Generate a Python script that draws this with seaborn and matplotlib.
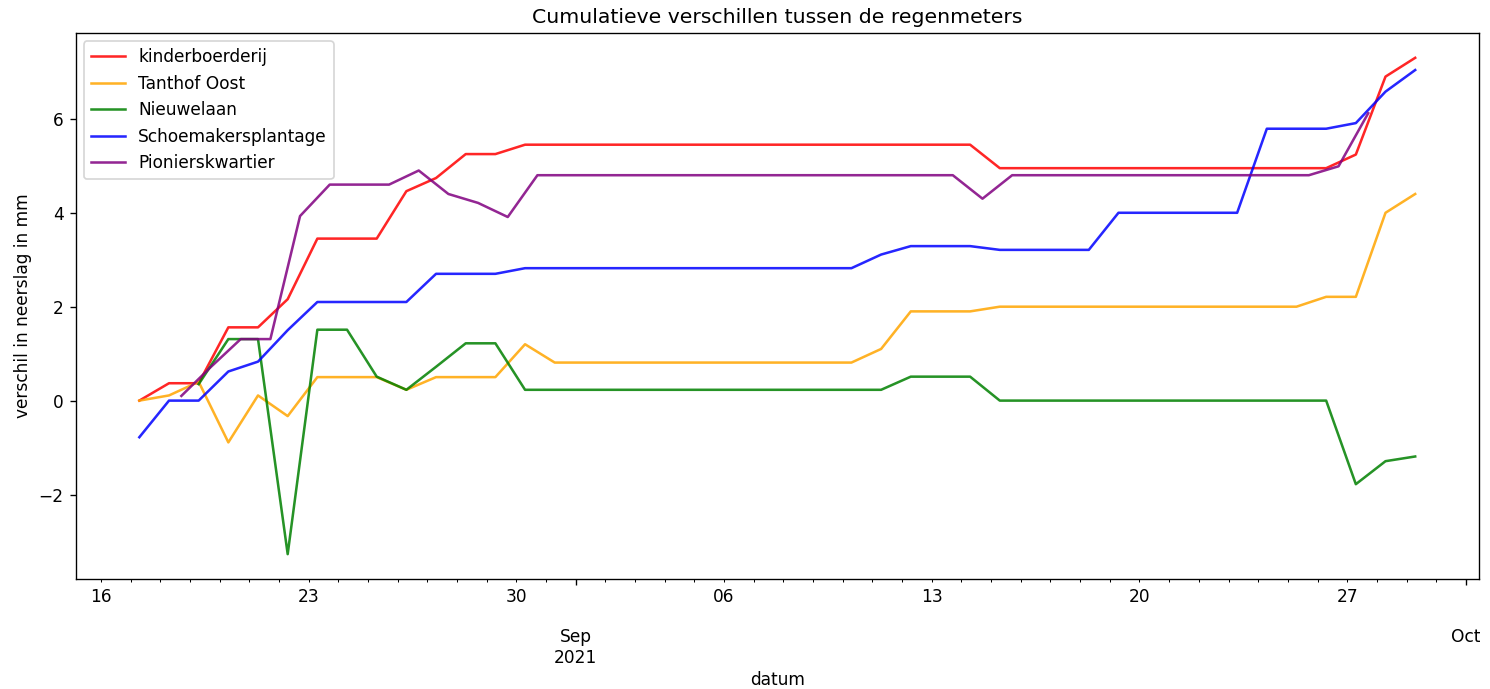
import numpy as np
import pandas as pd
import matplotlib
matplotlib.use("Agg")
import matplotlib.pyplot as plt
import matplotlib.dates as mdates
from matplotlib.ticker import FixedLocator, FuncFormatter
import seaborn as sns

# ---- data ----
start_main = "2021-08-17 07:00"
start_pionier = "2021-08-18 17:00"

kinderboerderij = [0.0, 0.37, 0.37, 1.56, 1.56, 2.16, 3.45, 3.45, 3.45, 4.46, 4.74, 5.25, 5.25,
                   5.45, 5.45, 5.45, 5.45, 5.45, 5.45, 5.45, 5.45, 5.45, 5.45, 5.45, 5.45, 5.45, 5.45, 5.45, 5.45,
                   4.95, 4.95, 4.95, 4.95, 4.95, 4.95, 4.95, 4.95, 4.95, 4.95, 4.95, 4.95,
                   5.24, 6.9, 7.3]
tanthof_oost = [0.0, 0.11, 0.4, -0.89, 0.11, -0.33, 0.5, 0.5, 0.5, 0.23, 0.5, 0.5, 0.5, 1.2,
                0.81, 0.81, 0.81, 0.81, 0.81, 0.81, 0.81, 0.81, 0.81, 0.81, 0.81,
                1.1, 1.9, 1.9, 1.9,
                2.0, 2.0, 2.0, 2.0, 2.0, 2.0, 2.0, 2.0, 2.0, 2.0, 2.0,
                2.21, 2.21, 4.0, 4.4]
nieuwelaan = [np.nan, np.nan, 0.35, 1.31, 1.31, -3.27, 1.51, 1.51, 0.51, 0.23, 0.72, 1.22, 1.22,
              0.23, 0.23, 0.23, 0.23, 0.23, 0.23, 0.23, 0.23, 0.23, 0.23, 0.23, 0.23, 0.23,
              0.51, 0.51, 0.51,
              0.0, 0.0, 0.0, 0.0, 0.0, 0.0, 0.0, 0.0, 0.0, 0.0, 0.0, 0.0,
              -1.78, -1.29, -1.19]
schoemakersplantage = [-0.78, 0.0, 0.0, 0.62, 0.83, 1.5, 2.1, 2.1, 2.1, 2.1, 2.7, 2.7, 2.7,
                       2.82, 2.82, 2.82, 2.82, 2.82, 2.82, 2.82, 2.82, 2.82, 2.82, 2.82, 2.82,
                       3.11, 3.29, 3.29, 3.29,
                       3.21, 3.21, 3.21, 3.21,
                       4.0, 4.0, 4.0, 4.0, 4.0,
                       5.79, 5.79, 5.79, 5.91, 6.58, 7.04]
pionierskwartier = [0.1, 0.72, 1.31, 1.31, 3.93, 4.6, 4.6, 4.6, 4.9, 4.4, 4.21, 3.91,
                    4.8, 4.8, 4.8, 4.8, 4.8, 4.8, 4.8, 4.8, 4.8, 4.8, 4.8, 4.8, 4.8, 4.8, 4.8,
                    4.3,
                    4.8, 4.8, 4.8, 4.8, 4.8, 4.8, 4.8, 4.8, 4.8, 4.8, 4.8,
                    4.99, 6.12]

names = ["kinderboerderij", "Tanthof Oost", "Nieuwelaan", "Schoemakersplantage", "Pionierskwartier"]
colors = ["red", "orange", "green", "blue", "purple"]

dates_main = pd.date_range(start_main, periods=len(kinderboerderij), freq="D")
dates_pion = pd.date_range(start_pionier, periods=len(pionierskwartier), freq="D")

series = [
    pd.Series(kinderboerderij, index=dates_main),
    pd.Series(tanthof_oost, index=dates_main),
    pd.Series(nieuwelaan, index=dates_main),
    pd.Series(schoemakersplantage, index=dates_main),
    pd.Series(pionierskwartier, index=dates_pion),
]

# ---- figure ----
dpi = 122
fig = plt.figure(figsize=(1490 / dpi, 689 / dpi), dpi=dpi)
ax = fig.add_axes([0.0507, 0.1597, 0.9926 - 0.0507, 0.9521 - 0.1597])

for s, name, col in zip(series, names, colors):
    s = s.dropna()
    sns.lineplot(x=s.index, y=s.values, ax=ax, color=col, alpha=0.85,
                 linewidth=1.5, label=name, errorbar=None)

ax.margins(x=0.05, y=0.05)

# pandas-style date ticks
major_dates = [pd.Timestamp("2021-09-01"), pd.Timestamp("2021-10-01")]
major_labels = {9: "\n\nSep\n2021", 10: "\n\nOct"}
ax.xaxis.set_major_locator(FixedLocator([mdates.date2num(d) for d in major_dates]))
ax.xaxis.set_major_formatter(FuncFormatter(
    lambda x, pos: major_labels.get(mdates.num2date(x).month, "")))
ax.xaxis.set_minor_locator(mdates.DayLocator())
ax.xaxis.set_minor_formatter(FuncFormatter(
    lambda x, pos: mdates.num2date(x).strftime("%d") if mdates.num2date(x).weekday() == 0 else ""))
ax.tick_params(axis="x", which="major", pad=1.0)

ax.set_title("Cumulatieve verschillen tussen de regenmeters", fontsize=12, pad=6.0)
ax.set_xlabel("datum", labelpad=2.5)
ax.set_ylabel("verschil in neerslag in mm")
ax.legend(loc="upper left")

fig.savefig("out.png", dpi=dpi)
